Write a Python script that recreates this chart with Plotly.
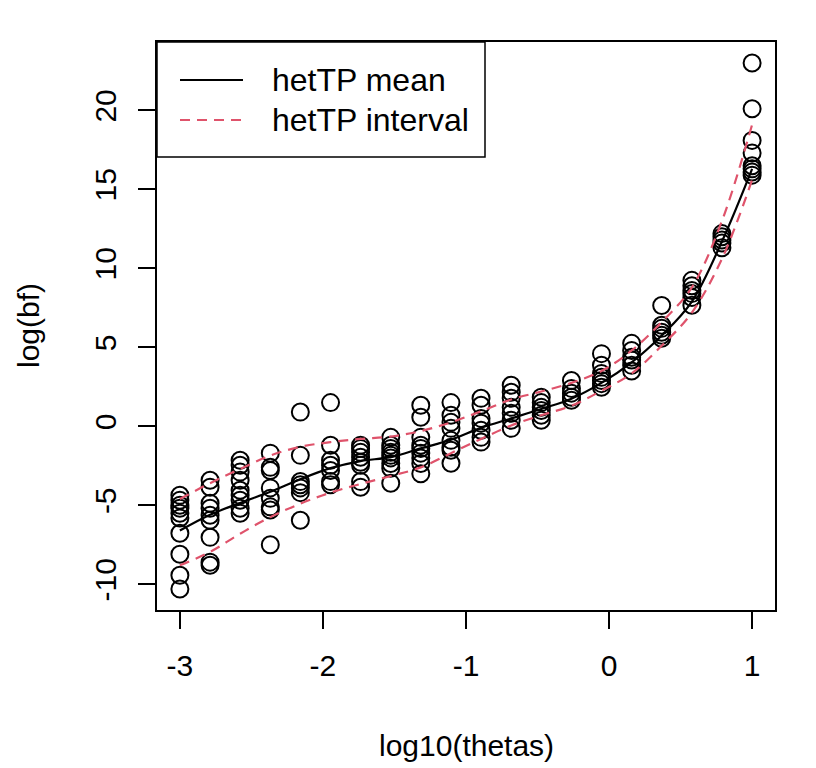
import plotly.graph_objects as go

# ---- data ----
theta_grid = [-3.0, -2.789, -2.579, -2.368, -2.158, -1.947, -1.737, -1.526, -1.316, -1.105,
              -0.895, -0.684, -0.474, -0.263, -0.053, 0.158, 0.368, 0.579, 0.789, 1.0]

bf_by_theta = [
    [-4.37, -4.68, -5.0, -5.19, -5.5, -5.8, -6.77, -8.1, -9.43, -10.3],
    [-3.42, -3.86, -4.87, -5.19, -5.63, -5.95, -7.03, -8.6, -8.8],
    [-2.15, -2.47, -2.9, -3.42, -4.05, -4.37, -4.68, -5.19, -5.5],
    [-1.7, -2.6, -2.8, -3.9, -4.56, -5.1, -5.3, -7.5],
    [0.9, -1.84, -3.5, -3.7, -3.9, -4.2, -5.95],
    [1.5, -1.2, -2.15, -2.47, -2.8, -3.5, -3.7],
    [-1.2, -1.4, -1.65, -1.96, -2.28, -2.47, -3.5, -3.86],
    [-0.7, -1.2, -1.4, -1.65, -1.84, -2.0, -2.35, -2.66, -3.6],
    [1.33, 0.57, -0.7, -1.2, -1.4, -1.7, -2.0, -2.35, -3.0],
    [1.5, 0.7, 0.25, -0.13, -0.89, -1.33, -1.52, -2.34],
    [1.77, 1.33, 0.5, 0.2, -0.25, -0.7, -1.0],
    [2.6, 2.15, 1.77, 1.2, 0.82, 0.38, -0.13],
    [1.84, 1.5, 1.2, 1.0, 0.7, 0.38],
    [2.9, 2.4, 2.1, 1.84, 1.65],
    [4.6, 3.86, 3.35, 3.1, 2.9, 2.7, 2.47],
    [5.25, 4.8, 4.37, 4.2, 3.86, 3.5],
    [7.65, 6.4, 6.2, 5.95, 5.76, 5.57],
    [9.24, 8.9, 8.6, 8.4, 8.16, 7.66],
    [12.2, 12.0, 11.8, 11.6, 11.3],
    [23.0, 20.1, 18.1, 17.3, 16.5, 16.3, 16.1, 15.9],
]

mean_curve = [-6.6, -5.6, -4.85, -4.15, -3.35, -2.65, -2.2, -1.95, -1.4, -0.85,
              -0.1, 0.5, 1.1, 1.75, 2.75, 4.05, 5.75, 7.9, 11.7, 16.3]
upper_curve = [-4.6, -3.6, -2.7, -1.85, -1.3, -1.0, -0.8, -0.65, -0.3, 0.25,
               0.95, 1.7, 2.2, 2.75, 3.5, 4.8, 6.6, 8.8, 13.0, 19.1]
lower_curve = [-8.8, -7.95, -6.8, -5.75, -4.9, -4.2, -3.65, -3.15, -2.6, -1.7,
               -0.8, 0.05, 0.7, 1.3, 2.25, 3.35, 5.1, 7.2, 10.6, 15.6]

x_ticks = [-3, -2, -1, 0, 1]
y_ticks = [-10, -5, 0, 5, 10, 15, 20]
legend_labels = ["hetTP mean", "hetTP interval"]

# ---- build ----
pts_x, pts_y = [], []
for t, vals in zip(theta_grid, bf_by_theta):
    for v in vals:
        pts_x.append(t)
        pts_y.append(v)

FONT = "Liberation Sans, Arial, Helvetica, sans-serif"
RED = "#DF536B"
FS = 30
DASH = "10px,7px"
SMOOTH = 1.0

fig = go.Figure()
fig.add_trace(go.Scatter(x=pts_x, y=pts_y, mode="markers",
                         marker=dict(symbol="circle-open", size=17, color="black",
                                     line=dict(width=2, color="black")),
                         showlegend=False))
fig.add_trace(go.Scatter(x=theta_grid, y=mean_curve, mode="lines",
                         line=dict(color="black", width=2.2, shape="spline", smoothing=SMOOTH),
                         showlegend=False))
for c in (upper_curve, lower_curve):
    fig.add_trace(go.Scatter(x=theta_grid, y=c, mode="lines",
                             line=dict(color=RED, width=2.2, dash=DASH, shape="spline", smoothing=SMOOTH),
                             showlegend=False))

axis_common = dict(showgrid=False, zeroline=False, showline=True, mirror=True,
                   linecolor="black", linewidth=1.5, ticks="outside", ticklen=17,
                   tickwidth=1.5, tickcolor="black",
                   tickfont=dict(family=FONT, size=FS, color="black"))
fig.update_xaxes(range=[-3.16, 1.16], tickvals=x_ticks, ticktext=[str(v) for v in x_ticks],
                 ticklabelstandoff=11, **axis_common)
fig.update_yaxes(range=[-11.63, 24.33], tickvals=y_ticks, ticktext=[str(v) for v in y_ticks],
                 tickangle=-90, ticklabelstandoff=10, **axis_common)

# target plot area on screen: x 157..775, y 42..610 (page has an 8px body offset)
W, H = 618.0, 568.0
def px_to_paper(px, py):
    return (px - 157) / W, (610 - py) / H

bx0, by0 = px_to_paper(157, 157)
bx1, by1 = px_to_paper(485, 42)
shapes = [dict(type="rect", xref="paper", yref="paper", x0=bx0, y0=by0, x1=bx1, y1=by1,
               line=dict(color="black", width=1.5), fillcolor="white", layer="above")]
lx0, ly_mean = px_to_paper(180, 80)
lx1, ly_int = px_to_paper(243, 120)
shapes.append(dict(type="line", xref="paper", yref="paper", x0=lx0, x1=lx1, y0=ly_mean, y1=ly_mean,
                   line=dict(color="black", width=2.2), layer="above"))
shapes.append(dict(type="line", xref="paper", yref="paper", x0=lx0, x1=lx1, y0=ly_int, y1=ly_int,
                   line=dict(color=RED, width=2.2, dash=DASH), layer="above"))
tx, _ = px_to_paper(270, 0)
LFS = 32
annotations = [
    dict(text=legend_labels[0], xref="paper", yref="paper", x=tx, y=ly_mean, xanchor="left",
         yanchor="middle", showarrow=False, font=dict(family=FONT, size=LFS, color="black")),
    dict(text=legend_labels[1], xref="paper", yref="paper", x=tx, y=ly_int, xanchor="left",
         yanchor="middle", showarrow=False, font=dict(family=FONT, size=LFS, color="black")),
]
_, ax_y = px_to_paper(0, 745)
annotations.append(dict(text="log10(thetas)", xref="paper", yref="paper", x=0.5, y=ax_y,
                        xanchor="center", yanchor="middle", showarrow=False,
                        font=dict(family=FONT, size=FS, color="black")))
ay_x, ay_y = px_to_paper(28, 326)
annotations.append(dict(text="log(bf)", xref="paper", yref="paper", x=ay_x, y=ay_y,
                        xanchor="center", yanchor="middle", showarrow=False, textangle=-90,
                        font=dict(family=FONT, size=FS, color="black")))

fig.update_layout(width=816, height=768, margin=dict(l=149, r=49, t=34, b=166),
                  plot_bgcolor="white", paper_bgcolor="white",
                  shapes=shapes, annotations=annotations, showlegend=False)

fig.write_html("out.html")
